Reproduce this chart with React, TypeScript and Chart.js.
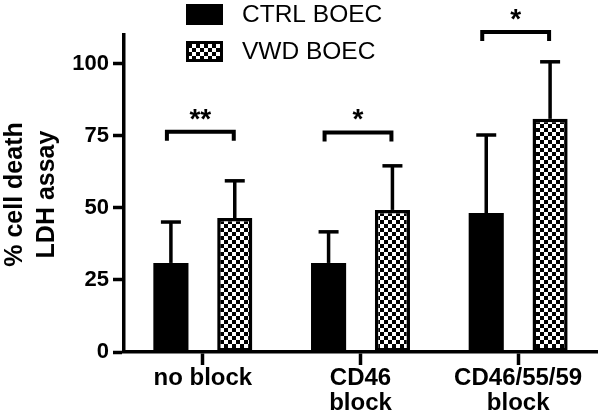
import React, { useEffect, useRef } from 'react';
import { Chart, registerables } from 'chart.js';

Chart.register(...registerables);

const categories: string[][] = [['no block'], ['CD46', 'block'], ['CD46/55/59', 'block']];
const seriesNames = ['CTRL BOEC', 'VWD BOEC'];
const yTitleLines = ['% cell death', 'LDH assay'];
const ctrlValues = [30.9, 30.9, 48.2];
const vwdValues = [46.5, 49.3, 80.9];
const ctrlErrors = [14.2, 10.8, 27.1];
const vwdErrors = [12.9, 15.3, 19.8];
const sigLabels = ['**', '*', '*'];
const sigLevels = [76.4, 76.2, 111];
const yMin = 0;
const yMax = 110;
const yStep = 25;

const FONT = '"Liberation Sans", Arial, Helvetica, sans-serif';

function makeChecker(): CanvasPattern | string {
  const c = document.createElement('canvas');
  c.width = 8;
  c.height = 8;
  const g = c.getContext('2d');
  if (!g) return '#000';
  g.fillStyle = '#fff';
  g.fillRect(0, 0, 8, 8);
  g.fillStyle = '#000';
  g.fillRect(0, 0, 4, 4);
  g.fillRect(4, 4, 4, 4);
  const p = g.createPattern(c, 'repeat');
  return p || '#000';
}

export default function App() {
  const ref = useRef<HTMLCanvasElement | null>(null);

  useEffect(() => {
    const canvas = ref.current;
    if (!canvas) return;
    const checker = makeChecker();
    const errors = [ctrlErrors, vwdErrors];

    const overlay = {
      id: 'overlay',
      afterDatasetsDraw(chart: any) {
        const ctx = chart.ctx as CanvasRenderingContext2D;
        const ys = chart.scales.y;
        const area = chart.chartArea;
        ctx.save();
        ctx.strokeStyle = '#000';
        ctx.lineWidth = 3.5;
        ctx.lineCap = 'butt';
        // error bars (upper only)
        for (let d = 0; d < 2; d++) {
          const meta = chart.getDatasetMeta(d);
          meta.data.forEach((bar: any, i: number) => {
            const v = (chart.data.datasets[d].data as number[])[i];
            const top = ys.getPixelForValue(v + errors[d][i]);
            ctx.beginPath();
            ctx.moveTo(bar.x, bar.y);
            ctx.lineTo(bar.x, top);
            ctx.stroke();
            ctx.beginPath();
            ctx.moveTo(bar.x - 10, top);
            ctx.lineTo(bar.x + 10, top);
            ctx.stroke();
          });
        }
        // significance brackets
        const m0 = chart.getDatasetMeta(0);
        const m1 = chart.getDatasetMeta(1);
        ctx.lineWidth = 4;
        ctx.lineJoin = 'miter';
        sigLevels.forEach((lvl, i) => {
          const x0 = m0.data[i].x - 4;
          const x1 = m1.data[i].x - 1;
          const y = ys.getPixelForValue(lvl);
          ctx.beginPath();
          ctx.moveTo(x0, y + 9);
          ctx.lineTo(x0, y);
          ctx.lineTo(x1, y);
          ctx.lineTo(x1, y + 9);
          ctx.stroke();
          ctx.fillStyle = '#000';
          ctx.font = `bold 28px ${FONT}`;
          ctx.textAlign = 'center';
          ctx.textBaseline = 'middle';
          ctx.fillText(sigLabels[i], (x0 + x1) / 2, y - 12);
        });
        // legend
        const fills = ['#000', checker];
        seriesNames.forEach((name, i) => {
          const bx = 186;
          const by = 4 + i * 37;
          ctx.fillStyle = fills[i] as any;
          ctx.fillRect(bx, by, 37, 21);
          ctx.lineWidth = 3;
          ctx.strokeRect(bx + 1.5, by + 1.5, 34, 18);
          ctx.fillStyle = '#000';
          ctx.font = `24.5px ${FONT}`;
          ctx.textAlign = 'left';
          ctx.textBaseline = 'middle';
          ctx.fillText(name, 242, by + 11);
        });
        // y-axis title (two rotated lines)
        const cy = (area.top + area.bottom) / 2 + 1;
        const baselines = [22, 54];
        ctx.fillStyle = '#000';
        ctx.font = `bold 25px ${FONT}`;
        ctx.textAlign = 'center';
        ctx.textBaseline = 'alphabetic';
        yTitleLines.forEach((line, i) => {
          ctx.save();
          ctx.translate(baselines[i], cy);
          ctx.rotate(-Math.PI / 2);
          ctx.fillText(line, 0, 0);
          ctx.restore();
        });
        ctx.restore();
      },
    };

    const chart = new Chart(canvas, {
      type: 'bar',
      data: {
        labels: categories,
        datasets: [
          {
            label: seriesNames[0],
            data: ctrlValues,
            backgroundColor: '#000',
            borderColor: '#000',
            borderWidth: 0,
            categoryPercentage: 0.81,
            barPercentage: 0.55,
          },
          {
            label: seriesNames[1],
            data: vwdValues,
            backgroundColor: checker as any,
            borderColor: '#000',
            borderWidth: 3.5,
            borderSkipped: false,
            categoryPercentage: 0.81,
            barPercentage: 0.55,
          },
        ],
      },
      options: {
        animation: false,
        responsive: false,
        maintainAspectRatio: false,
        layout: { padding: { top: 35, right: 3, left: 0, bottom: 0 } },
        plugins: {
          legend: { display: false },
          tooltip: { enabled: false },
        },
        scales: {
          x: {
            afterFit(scale: any) {
              scale.height = 64;
            },
            border: { display: true, color: '#000', width: 3.5 },
            grid: {
              display: true,
              drawOnChartArea: false,
              drawTicks: true,
              offset: false,
              tickLength: 13,
              tickWidth: 3.5,
              tickColor: '#000',
            },
            ticks: {
              color: '#000',
              padding: 1,
              maxRotation: 0,
              autoSkip: false,
              font: { family: FONT, size: 24, weight: 'bold', lineHeight: 1.05 },
            },
          },
          y: {
            min: yMin,
            max: yMax,
            afterFit(scale: any) {
              scale.width = 124;
            },
            border: { display: true, color: '#000', width: 3.5 },
            grid: {
              display: true,
              drawOnChartArea: false,
              drawTicks: true,
              tickLength: 11,
              tickWidth: 3.5,
              tickColor: '#000',
            },
            ticks: {
              stepSize: yStep,
              includeBounds: false,
              color: '#000',
              padding: 4,
              font: { family: FONT, size: 22, weight: 'bold' },
            },
          },
        },
      },
      plugins: [overlay],
    });

    return () => {
      chart.destroy();
    };
  }, []);

  return (
    <div style={{ position: 'absolute', left: 0, top: 0, width: 600, height: 416, background: '#fff' }}>
      <canvas ref={ref} width={600} height={416} style={{ display: 'block', width: 600, height: 416 }} />
    </div>
  );
}
